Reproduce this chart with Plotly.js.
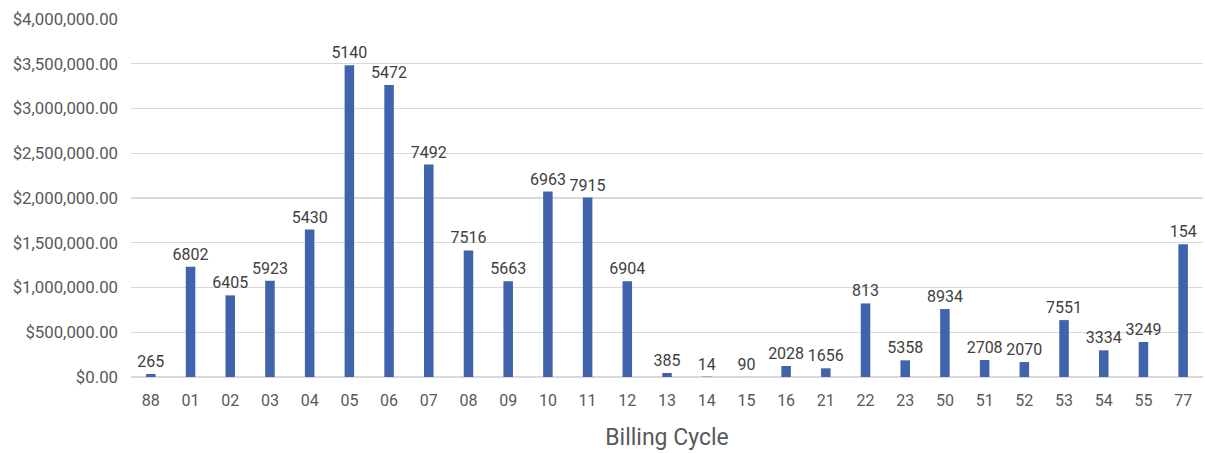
<!DOCTYPE html>
<html>
<head>
<meta charset="utf-8">
<script src="https://cdn.plot.ly/plotly-3.0.1.min.js"></script>
<style>html,body{margin:0;padding:0;background:#fff}#chart{width:1205px;height:453px}</style>
</head>
<body>
<div id="chart"></div>
<script>
const cycles = ['88','01','02','03','04','05','06','07','08','09','10','11','12','13','14','15','16','21','22','23','50','51','52','53','54','55','77'];
const amounts = [33500,1232000,912000,1076000,1648000,3482000,3263000,2374000,1414000,1071000,2072000,2005000,1071000,44600,4000,600,123000,97000,822000,186000,759000,190000,167000,636000,298000,391000,1484000];
const counts = ['265','6802','6405','5923','5430','5140','5472','7492','7516','5663','6963','7915','6904','385','14','90','2028','1656','813','5358','8934','2708','2070','7551','3334','3249','154'];

const trace = {
  type: 'bar',
  x: cycles,
  y: amounts,
  text: counts,
  textposition: 'outside',
  constraintext: 'none',
  cliponaxis: false,
  textfont: {family: 'Roboto, sans-serif', size: 16, color: '#404040'},
  marker: {color: '#4064AC'},
  hoverinfo: 'x+y'
};

const layout = {
  width: 1205, height: 453,
  margin: {l: 131, r: 2, t: 19, b: 76},
  paper_bgcolor: '#ffffff', plot_bgcolor: '#ffffff',
  bargap: 0.76,
  showlegend: false,
  font: {family: 'Roboto, sans-serif', color: '#595959'},
  xaxis: {
    type: 'category',
    showgrid: false, zeroline: false, showline: false,
    ticks: '', ticklabelstandoff: 12,
    tickfont: {size: 16, color: '#595959'},
    title: {text: 'Billing Cycle', font: {size: 23, color: '#595959'}, standoff: 19}
  },
  yaxis: {
    range: [0, 4000000], dtick: 500000, tick0: 0,
    tickformat: '$,.2f',
    gridcolor: '#d9d9d9', gridwidth: 1.3,
    zeroline: true, zerolinecolor: '#d9d9d9', zerolinewidth: 1.3,
    showline: false, ticks: '',
    ticklabelstandoff: 12,
    tickfont: {size: 16.8, color: '#595959'}
  }
};

Plotly.newPlot('chart', [trace], layout, {displayModeBar: false, staticPlot: true});
</script>
</body>
</html>
